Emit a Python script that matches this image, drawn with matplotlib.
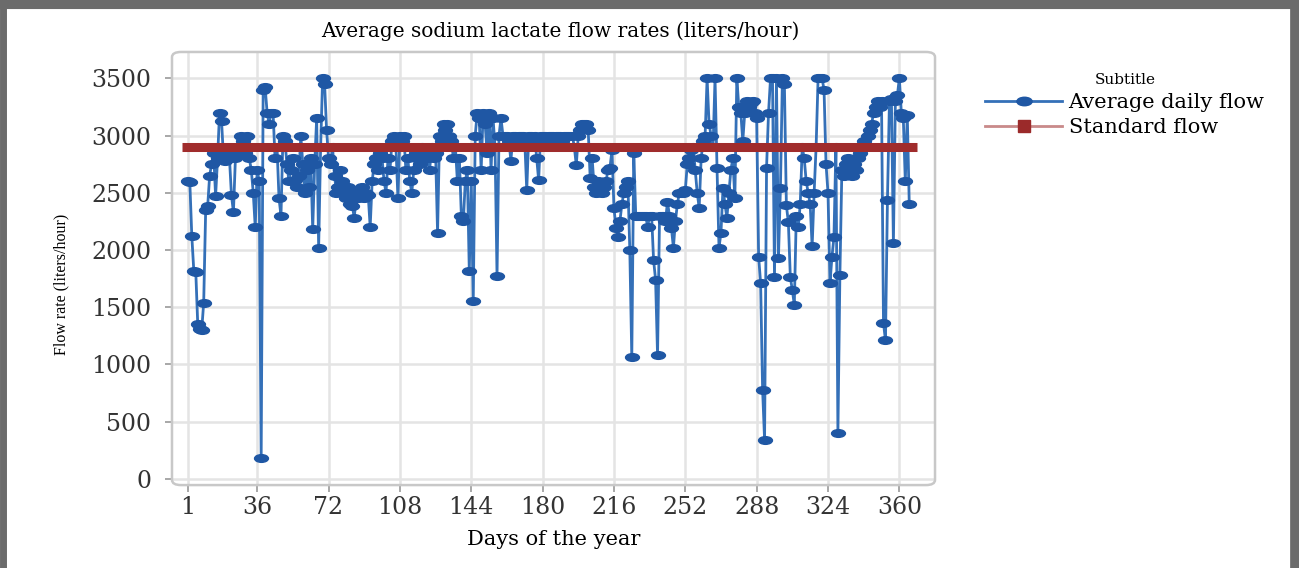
import matplotlib
matplotlib.use("Agg")
import matplotlib.pyplot as plt
import numpy as np
from matplotlib.path import Path
from matplotlib.transforms import Affine2D
from matplotlib.patches import FancyBboxPatch
from matplotlib.lines import Line2D

# daily average flow (liters/hour)
flow = [
    2600, 2590, 2120, 1820, 1810, 1350, 1310, 1300, 1540, 2350,
    2380, 2650, 2750, 2850, 2470, 2800, 3200, 3130, 2800, 2780,
    2850, 2800, 2480, 2330, 2800, 2900, 2850, 3000, 2950, 2850,
    3000, 2800, 2700, 2500, 2200, 2700, 2600, 180, 3400, 3420,
    3200, 3100, 3200, 3200, 2800, 2900, 2450, 2300, 3000, 2950,
    2750, 2600, 2700, 2800, 2610, 2550, 2650, 3000, 2750, 2500,
    2700, 2550, 2800, 2180, 2750, 3150, 2020, 2900, 3500, 3450,
    3050, 2800, 2750, 2900, 2650, 2500, 2550, 2700, 2600, 2500,
    2450, 2550, 2400, 2380, 2280, 2500, 2450, 2500, 2550, 2450,
    2500, 2480, 2200, 2600, 2750, 2800, 2700, 2850, 2800, 2600,
    2500, 2800, 2700, 2950, 3000, 2900, 2450, 3000, 2950, 3000,
    2700, 2800, 2600, 2500, 2700, 2850, 2800, 2750, 2900, 2800,
    2850, 2800, 2700, 2900, 2800, 2850, 2150, 3000, 2950, 3100,
    3050, 3100, 3000, 2950, 2800, 2900, 2600, 2800, 2300, 2250,
    2600, 2700, 1820, 2600, 1550, 3000, 3200, 3150, 2700, 3200,
    3100, 2850, 3200, 2700, 3150, 2900, 1770, 3000, 3150, 3000,
    3000, 3000, 2950, 2780, 3000, 3000, 2950, 3000, 3000, 3000,
    2950, 2520, 3000, 3000, 2950, 3000, 2800, 2610, 3000, 3000,
    3000, 2950, 3000, 3000, 3000, 2980, 3000, 3000, 3000, 2950,
    3000, 3000, 3000, 3000, 3000, 2900, 2740, 3000, 3050, 3100,
    3100, 3100, 3050, 2630, 2800, 2550, 2500, 2600, 2520, 2500,
    2550, 2600, 2700, 2720, 2870, 2370, 2190, 2110, 2250, 2400,
    2500, 2550, 2600, 2000, 1060, 2850, 2300, 2300, 2300, 2300,
    2300, 2300, 2200, 2300, 2300, 1910, 1740, 1080, 2300, 2300,
    2300, 2250, 2420, 2300, 2190, 2020, 2250, 2400, 2500, 2500,
    2500, 2520, 2750, 2800, 2870, 2900, 2700, 2500, 2370, 2800,
    2950, 3000, 3500, 3100, 3000, 2900, 3500, 2720, 2020, 2150,
    2540, 2400, 2280, 2500, 2700, 2800, 2450, 3500, 3250, 3200,
    2950, 3200, 3300, 3250, 3280, 3300, 3200, 3150, 1940, 1710,
    780, 340, 2720, 3200, 3500, 3500, 1760, 3500, 1930, 2540,
    3500, 3450, 2390, 2240, 1760, 1650, 1520, 2300, 2200, 2400,
    2900, 2800, 2600, 2500, 2400, 2030, 2500, 2900, 3500, 3500,
    3500, 3400, 2750, 2500, 1710, 1940, 2110, 2900, 400, 1780,
    2700, 2650, 2750, 2800, 2700, 2650, 2750, 2700, 2800, 2850,
    2900, 2950, 2900, 3000, 3050, 3100, 3200, 3250, 3300, 3250,
    3300, 1360, 1210, 2440, 3300, 3320, 2060, 3300, 3350, 3500,
    3200, 3150, 2600, 3180, 2400,
]
days = np.arange(1, len(flow) + 1)

std_days = [-2, 369]
std_flow = [2900, 2900]

x_ticks = [1, 36, 72, 108, 144, 180, 216, 252, 288, 324, 360]
y_ticks = [0, 500, 1000, 1500, 2000, 2500, 3000, 3500]

serif = ["DejaVu Serif"]
times = ["Liberation Serif", "DejaVu Serif"]

fig = plt.figure(figsize=(12.99, 5.68), dpi=100)
ax = fig.add_axes([0.1324, 0.146, 0.5874, 0.7625])

ellipse = Path.unit_circle().transformed(Affine2D().scale(1.8, 1.0))

ax.plot(std_days, std_flow, color="#a02c2c", lw=6.5, zorder=4,
        solid_capstyle="butt")
ax.plot(days, flow, color="#3470b8", lw=2.0, marker=ellipse, ms=10,
        mfc="#1f57a4", mec="#1f57a4", zorder=3)

ax.set_xlim(-7, 378)
ax.set_ylim(-55, 3730)
ax.set_xticks(x_ticks)
ax.set_yticks(y_ticks)
ax.grid(True, color="#e4e4e4", lw=1.8)
ax.set_axisbelow(True)
for s in ax.spines.values():
    s.set_visible(False)
ax.tick_params(axis="both", length=5, width=1.2, color="#999999",
               labelcolor="#333333", labelsize=17)
ax.tick_params(axis="x", pad=3)
ax.tick_params(axis="y", pad=10)
for lab in ax.get_xticklabels() + ax.get_yticklabels():
    lab.set_family(serif)

frame = FancyBboxPatch((0, 0), 1, 1, boxstyle="round,pad=0,rounding_size=0.012",
                       transform=ax.transAxes, fill=False, ec="#c8c8c8",
                       lw=1.8, zorder=5, clip_on=False)
ax.add_patch(frame)

fig.text(0.431, 0.945, "Average sodium lactate flow rates (liters/hour)",
         ha="center", va="center", fontsize=14.5, family=serif)
ax.set_xlabel("Days of the year", fontsize=15, family=serif, labelpad=8)
fig.text(0.047, 0.5, "Flow rate (liters/hour)", rotation=90, ha="center",
         va="center", fontsize=11.5, family=times)

h1 = Line2D([], [], color="#3470b8", lw=2, marker=ellipse, ms=11,
            mfc="#1f57a4", mec="#1f57a4")
h2 = Line2D([], [], color="#c98a8a", lw=2, marker="s", ms=9,
            mfc="#9b2a2a", mec="#9b2a2a")
leg = fig.legend([h1, h2], ["Average daily flow", "Standard flow"],
                 loc="upper left", bbox_to_anchor=(0.744, 0.905),
                 frameon=False, title="Subtitle", handlelength=3.7,
                 handletextpad=0.3, labelspacing=0.3,
                 prop={"family": serif, "size": 15})
leg.get_title().set_fontfamily(serif)
leg.get_title().set_fontsize(11)

# grey frame around the picture (no bottom edge)
borders = [([0.002, 0.002], [0, 1], 5),
           ([0.997, 0.997], [0, 1], 7),
           ([0, 1], [0.994, 0.994], 8)]
for xs, ys, w in borders:
    fig.add_artist(Line2D(xs, ys, transform=fig.transFigure,
                          color="#6b6b6b", lw=w))

fig.savefig("out.png", dpi=100)
